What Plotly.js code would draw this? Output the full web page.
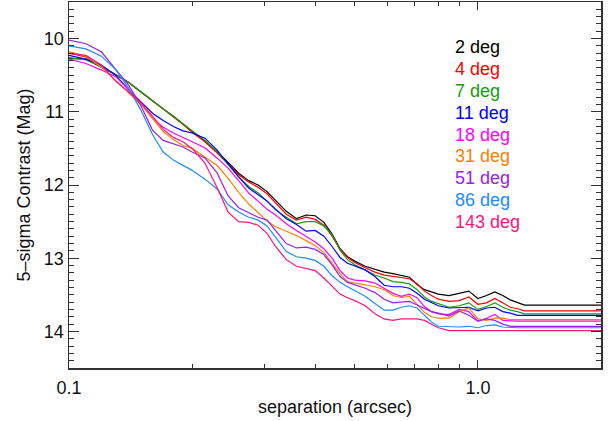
<!DOCTYPE html>
<html>
<head>
<meta charset="utf-8">
<script src="https://cdn.plot.ly/plotly-3.0.1.min.js"></script>
<style>html,body{margin:0;padding:0;background:#fff;}#chart{width:611px;height:421px;}</style>
</head>
<body>
<div id="chart"></div>
<script>
// separation grid (arcsec)
const separation = [0.100,0.110,0.120,0.130,0.140,0.150,0.160,0.170,0.180,0.190,0.200,0.215,0.230,0.245,0.260,0.275,0.290,0.305,0.320,0.340,0.360,0.380,0.400,0.420,0.440,0.460,0.480,0.500,0.530,0.560,0.590,0.620,0.650,0.680,0.710,0.740,0.770,0.800,0.850,0.900,0.950,1.000,1.050,1.100,1.150,1.200,1.250,1.300,2.000];

// 5-sigma contrast (mag) per rotation angle
const deg2   = [10.27,10.28,10.39,10.49,10.60,10.73,10.85,10.96,11.06,11.17,11.27,11.40,11.55,11.69,11.84,11.94,12.00,12.09,12.21,12.36,12.46,12.41,12.42,12.51,12.67,12.87,12.98,13.04,13.11,13.15,13.19,13.21,13.24,13.26,13.36,13.43,13.46,13.49,13.51,13.48,13.45,13.55,13.51,13.46,13.51,13.57,13.61,13.64,13.64];
const deg4   = [10.20,10.25,10.38,10.49,10.60,10.73,10.85,10.96,11.07,11.17,11.28,11.41,11.56,11.71,11.86,11.96,12.03,12.12,12.25,12.40,12.48,12.44,12.47,12.55,12.70,12.88,12.99,13.06,13.13,13.19,13.23,13.25,13.26,13.28,13.35,13.45,13.51,13.56,13.59,13.58,13.53,13.63,13.61,13.55,13.61,13.67,13.69,13.72,13.72];
const deg7   = [10.26,10.29,10.38,10.49,10.60,10.73,10.85,10.96,11.07,11.17,11.26,11.39,11.54,11.72,11.89,12.02,12.11,12.22,12.34,12.44,12.53,12.50,12.50,12.56,12.68,12.89,13.02,13.09,13.16,13.23,13.27,13.32,13.33,13.35,13.43,13.53,13.59,13.62,13.67,13.65,13.61,13.70,13.66,13.61,13.67,13.71,13.73,13.76,13.76];
const deg11  = [10.23,10.28,10.36,10.50,10.70,10.86,11.02,11.12,11.20,11.26,11.29,11.36,11.52,11.71,11.89,12.04,12.13,12.22,12.33,12.46,12.54,12.63,12.62,12.70,12.84,12.99,13.07,13.11,13.16,13.25,13.37,13.39,13.39,13.41,13.48,13.56,13.61,13.65,13.68,13.68,13.67,13.72,13.68,13.67,13.73,13.75,13.78,13.78,13.78];
const deg18  = [10.28,10.34,10.43,10.52,10.70,10.88,11.09,11.21,11.29,11.35,11.40,11.49,11.63,11.77,11.94,12.11,12.22,12.33,12.41,12.53,12.62,12.70,12.78,12.87,13.00,13.17,13.27,13.30,13.31,13.34,13.41,13.48,13.52,13.49,13.54,13.66,13.73,13.76,13.77,13.70,13.73,13.86,13.82,13.77,13.85,13.86,13.86,13.86,13.86];
const deg31  = [10.18,10.24,10.39,10.57,10.74,10.90,11.09,11.27,11.38,11.46,11.50,11.62,11.73,11.91,12.10,12.26,12.38,12.49,12.57,12.63,12.69,12.76,12.83,12.92,13.07,13.21,13.32,13.34,13.37,13.39,13.43,13.51,13.54,13.52,13.63,13.74,13.80,13.82,13.82,13.73,13.68,13.83,13.85,13.82,13.82,13.84,13.84,13.84,13.84];
const deg51  = [10.02,10.07,10.18,10.42,10.64,10.92,11.25,11.39,11.44,11.48,11.55,11.63,11.83,12.15,12.31,12.38,12.44,12.48,12.62,12.80,12.86,12.85,12.88,12.95,13.09,13.25,13.33,13.36,13.41,13.47,13.56,13.61,13.60,13.59,13.64,13.69,13.73,13.75,13.79,13.72,13.78,13.86,13.83,13.85,13.90,13.93,13.93,13.93,13.93];
const deg86  = [10.10,10.14,10.24,10.42,10.68,10.98,11.31,11.55,11.66,11.73,11.80,11.92,12.05,12.27,12.37,12.44,12.48,12.56,12.72,12.91,12.98,13.00,13.03,13.11,13.24,13.33,13.39,13.44,13.52,13.62,13.71,13.71,13.67,13.65,13.68,13.78,13.87,13.93,13.94,13.94,13.93,13.95,13.92,13.91,13.94,13.95,13.95,13.95,13.95];
const deg143 = [10.20,10.23,10.36,10.58,10.73,10.88,11.06,11.24,11.35,11.41,11.50,11.70,12.03,12.37,12.50,12.51,12.55,12.66,12.84,13.02,13.11,13.14,13.17,13.27,13.39,13.49,13.54,13.58,13.65,13.76,13.83,13.85,13.83,13.83,13.83,13.85,13.90,13.95,13.99,13.99,13.99,13.99,13.99,13.99,13.99,13.99,13.99,13.99,13.99];

const seriesNames = ['2 deg','4 deg','7 deg','11 deg','18 deg','31 deg','51 deg','86 deg','143 deg'];
const seriesValues = [deg2, deg4, deg7, deg11, deg18, deg31, deg51, deg86, deg143];
const seriesColors = ['#000000','#ff0000','#10a010','#0000ff','#ff00ff','#ff8000','#9a20f0','#1e8cff','#ff1480'];

const xTickVals = [0.1, 1.0];
const xTickText = ['0.1', '1.0'];
const xMinorVals = [0.2,0.3,0.4,0.5,0.6,0.7,0.8,0.9,2.0];
const yTickVals = [10, 11, 12, 13, 14];

const FONT = 'Liberation Sans, Arial, Helvetica, sans-serif';
const AX = '#333333';

const traces = seriesValues.map((vals, i) => ({
  type: 'scatter', mode: 'lines', x: separation, y: vals, name: seriesNames[i],
  line: {color: seriesColors[i], width: 1.2}, hoverinfo: 'skip'
}));

const annotations = seriesNames.map((n, i) => ({
  xref: 'paper', yref: 'paper', x: 0.722, y: 0.876 - i * 0.0596,
  xanchor: 'left', yanchor: 'middle', showarrow: false, text: n,
  font: {family: FONT, size: 18, color: seriesColors[i]}
}));

const layout = {
  width: 611, height: 421,
  margin: {l: 69, r: 10, t: 2, b: 53},
  paper_bgcolor: '#ffffff', plot_bgcolor: '#ffffff',
  showlegend: false,
  font: {family: FONT, size: 18, color: '#111'},
  xaxis: {
    type: 'log', range: [-1, Math.log10(2)],
    tickmode: 'array', tickvals: xTickVals, ticktext: xTickText,
    ticks: 'inside', ticklen: 8, tickwidth: 1, tickcolor: AX,
    ticklabelstandoff: 3,
    minor: {tickmode: 'array', tickvals: xMinorVals, ticks: 'inside', ticklen: 4, tickwidth: 1, tickcolor: AX, showgrid: false},
    showline: true, linecolor: AX, linewidth: 1.5, mirror: 'ticks',
    showgrid: false, zeroline: false,
    tickfont: {family: FONT, size: 18, color: '#111'},
    title: {text: 'separation (arcsec)', font: {family: FONT, size: 18, color: '#111'}, standoff: 3}
  },
  yaxis: {
    range: [14.5, 9.5],
    tickmode: 'array', tickvals: yTickVals,
    ticks: 'inside', ticklen: 10, tickwidth: 1, tickcolor: AX,
    minor: {dtick: 0.1, ticks: 'inside', ticklen: 5, tickwidth: 1, tickcolor: AX, showgrid: false},
    showline: true, linecolor: AX, linewidth: 1.5, mirror: 'ticks',
    showgrid: false, zeroline: false,
    tickfont: {family: FONT, size: 18, color: '#111'},
    title: {text: '5–sigma Contrast (Mag)', font: {family: FONT, size: 18, color: '#111'}, standoff: 8}
  },
  annotations: annotations
};

Plotly.newPlot('chart', traces, layout, {staticPlot: true, displayModeBar: false});
</script>
</body>
</html>
